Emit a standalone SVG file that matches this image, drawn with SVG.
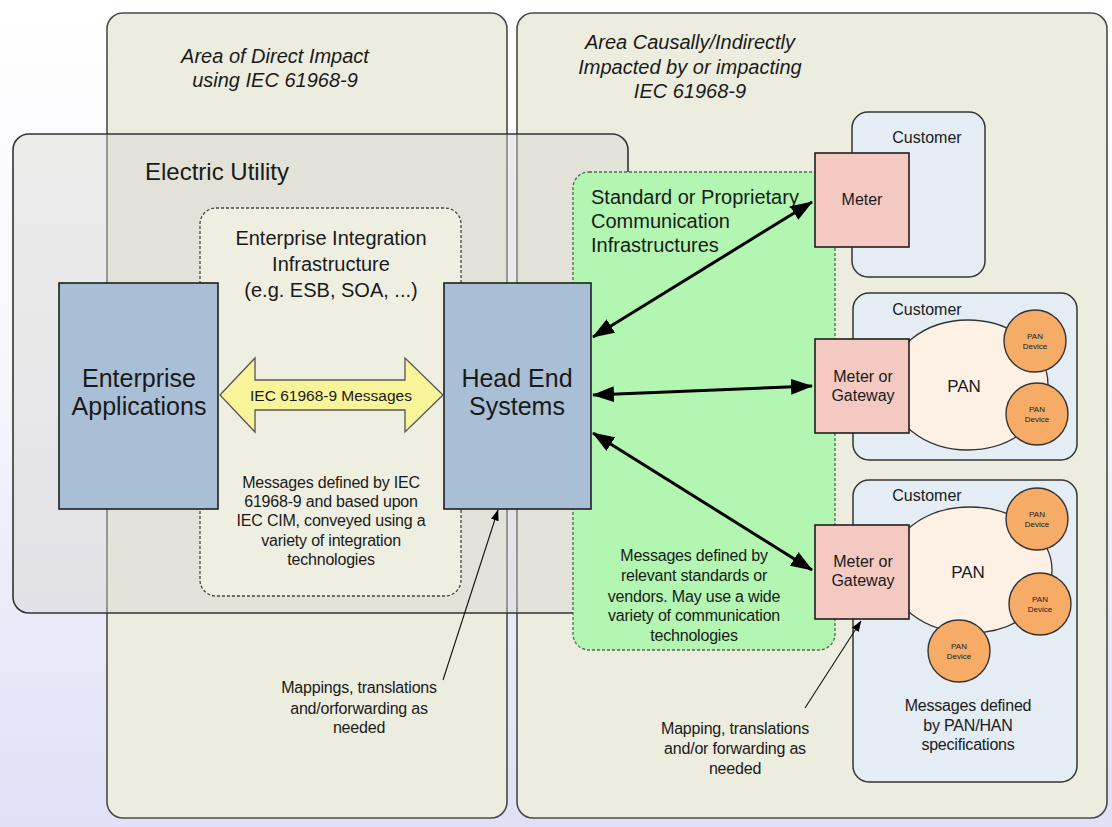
<svg xmlns="http://www.w3.org/2000/svg" width="1112" height="827" viewBox="0 0 1112 827">
  <defs>
    <linearGradient id="bg" x1="0" y1="0" x2="0" y2="1">
      <stop offset="0" stop-color="#ffffff"/>
      <stop offset="0.45" stop-color="#f6f6fc"/>
      <stop offset="1" stop-color="#e0e0f7"/>
    </linearGradient>
    <marker id="headBig" viewBox="0 0 22 16" refX="21" refY="8" markerWidth="22" markerHeight="16" markerUnits="userSpaceOnUse" orient="auto-start-reverse">
      <path d="M0,0 L22,8 L0,16 Z" fill="#000"/>
    </marker>
    <marker id="headThin" viewBox="0 0 11 8" refX="10.5" refY="4" markerWidth="11" markerHeight="8" markerUnits="userSpaceOnUse" orient="auto">
      <path d="M0,0 L11,4 L0,8 Z" fill="#000"/>
    </marker>
    <style>
      text { font-family: "Liberation Sans", Arial, sans-serif; fill: #1a1a1a; }
      .area { fill: #ededdf; stroke: #4a4a4a; stroke-width: 1.6; }
      .util { fill: #d4d4d0; fill-opacity: 0.42; stroke: #333; stroke-width: 1.6; }
      .eii { fill: #efefe1; stroke: #444; stroke-width: 1.3; stroke-dasharray: 3 2; }
      .comm { fill: #b2f6b2; stroke: #4f6a4f; stroke-width: 1.3; stroke-dasharray: 3 2; }
      .cust { fill: #e4ecf4; stroke: #333; stroke-width: 1.5; }
      .meter { fill: #f3c9c2; stroke: #1e1e1e; stroke-width: 1.6; }
      .sys { fill: #a9bfd6; stroke: #1e1e1e; stroke-width: 1.6; }
      .pan { fill: #fdf1e5; stroke: #333; stroke-width: 1.3; }
      .dev { fill: #f6ab67; stroke: #333; stroke-width: 1.4; }
      .devtxt { font-size: 8px; text-anchor: middle; }
      .big { stroke: #000; stroke-width: 3; fill: none; marker-start: url(#headBig); marker-end: url(#headBig); }
      .thin { stroke: #111; stroke-width: 1.1; fill: none; marker-end: url(#headThin); }
      .title { font-size: 20px; font-style: italic; text-anchor: middle; }
      .c { text-anchor: middle; }
      .note { font-size: 16px; text-anchor: middle; letter-spacing: -0.2px; }
    </style>
  </defs>

  <rect width="1112" height="827" fill="url(#bg)"/>

  <!-- impact areas -->
  <g id="area-direct">
    <rect class="area" x="107" y="13" width="400" height="805" rx="16"/>
    <text class="title" x="275" y="63">Area of Direct Impact</text>
    <text class="title" x="275" y="87">using IEC 61968-9</text>
  </g>
  <g id="area-indirect">
    <rect class="area" x="517" y="13" width="590" height="805" rx="16"/>
    <text class="title" x="690" y="49">Area Causally/Indirectly</text>
    <text class="title" x="690" y="74">Impacted by or impacting</text>
    <text class="title" x="690" y="98">IEC 61968-9</text>
  </g>

  <!-- utility boundary -->
  <g id="electric-utility">
    <rect class="util" x="13" y="134" width="615" height="479" rx="16"/>
    <text x="145" y="180" font-size="24">Electric Utility</text>
  </g>

  <g id="enterprise-integration">
    <rect class="eii" x="200" y="208" width="261" height="388" rx="16"/>
    <text class="c" x="331" y="245" font-size="20">Enterprise Integration</text>
    <text class="c" x="331" y="271" font-size="20">Infrastructure</text>
    <text class="c" x="331" y="297" font-size="20">(e.g. ESB, SOA, ...)</text>
    <text class="note" x="331" y="488">Messages defined by IEC</text>
    <text class="note" x="331" y="507">61968-9 and based upon</text>
    <text class="note" x="331" y="526">IEC CIM, conveyed using a</text>
    <text class="note" x="331" y="546">variety of integration</text>
    <text class="note" x="331" y="565">technologies</text>
  </g>

  <g id="comm-infrastructure">
    <rect class="comm" x="573" y="172" width="262" height="478" rx="16"/>
    <text x="591" y="204" font-size="20">Standard or Proprietary</text>
    <text x="591" y="228" font-size="20">Communication</text>
    <text x="591" y="252" font-size="20">Infrastructures</text>
    <text class="note" x="694" y="561">Messages defined by</text>
    <text class="note" x="694" y="581">relevant standards or</text>
    <text class="note" x="694" y="602">vendors. May use a wide</text>
    <text class="note" x="694" y="621">variety of communication</text>
    <text class="note" x="694" y="641">technologies</text>
  </g>

  <!-- customer premises -->
  <g id="customer-1">
    <rect class="cust" x="852" y="112" width="133" height="165" rx="16"/>
    <text class="c" x="927" y="143" font-size="16">Customer</text>
  </g>
  <g id="meter-1">
    <rect class="meter" x="815" y="153" width="94" height="94"/>
    <text class="c" x="862" y="205" font-size="16">Meter</text>
  </g>

  <g id="customer-2">
    <rect class="cust" x="853" y="293" width="224" height="167" rx="16"/>
    <text class="c" x="927" y="315" font-size="16">Customer</text>
    <ellipse class="pan" cx="968" cy="385" rx="80" ry="65"/>
    <text class="c" x="964" y="392" font-size="17">PAN</text>
    <circle class="dev" cx="1035" cy="341" r="31"/>
    <text class="devtxt" x="1035" y="339">PAN</text>
    <text class="devtxt" x="1035" y="349">Device</text>
    <circle class="dev" cx="1037" cy="414" r="31"/>
    <text class="devtxt" x="1037" y="412">PAN</text>
    <text class="devtxt" x="1037" y="422">Device</text>
  </g>
  <g id="gateway-2">
    <rect class="meter" x="815" y="339" width="94" height="94"/>
    <text class="c" x="863" y="382" font-size="16">Meter or</text>
    <text class="c" x="863" y="401" font-size="16">Gateway</text>
  </g>

  <g id="customer-3">
    <rect class="cust" x="853" y="480" width="224" height="302" rx="16"/>
    <text class="c" x="927" y="501" font-size="16">Customer</text>
    <ellipse class="pan" cx="970" cy="570" rx="82" ry="63"/>
    <text class="c" x="968" y="578" font-size="17">PAN</text>
    <circle class="dev" cx="1037" cy="519" r="31"/>
    <text class="devtxt" x="1037" y="517">PAN</text>
    <text class="devtxt" x="1037" y="527">Device</text>
    <circle class="dev" cx="1040" cy="604" r="31"/>
    <text class="devtxt" x="1040" y="602">PAN</text>
    <text class="devtxt" x="1040" y="612">Device</text>
    <circle class="dev" cx="959" cy="651" r="31"/>
    <text class="devtxt" x="959" y="649">PAN</text>
    <text class="devtxt" x="959" y="659">Device</text>
    <text class="note" x="968" y="711">Messages defined</text>
    <text class="note" x="968" y="731">by PAN/HAN</text>
    <text class="note" x="968" y="750">specifications</text>
  </g>
  <g id="gateway-3">
    <rect class="meter" x="815" y="525" width="94" height="94"/>
    <text class="c" x="863" y="567" font-size="16">Meter or</text>
    <text class="c" x="863" y="586" font-size="16">Gateway</text>
  </g>

  <!-- systems -->
  <g id="enterprise-applications">
    <rect class="sys" x="59" y="283" width="159" height="226"/>
    <text class="c" x="139" y="387" font-size="25">Enterprise</text>
    <text class="c" x="139" y="415" font-size="25">Applications</text>
  </g>
  <g id="head-end-systems">
    <rect class="sys" x="444" y="283" width="147" height="226"/>
    <text class="c" x="517" y="387" font-size="25">Head End</text>
    <text class="c" x="517" y="415" font-size="25">Systems</text>
  </g>

  <!-- connectors -->
  <g id="connectors">
    <g id="iec-messages">
      <polygon points="220,395 255,358 255,380 405,380 405,358 443,395 405,432 405,410 255,410 255,432" fill="#f8f49a" stroke="#555" stroke-width="1.3"/>
      <text class="c" x="331" y="401" font-size="15.5">IEC 61968-9 Messages</text>
    </g>
    <line class="big" x1="593" y1="337" x2="812" y2="202"/>
    <line class="big" x1="593" y1="395" x2="812" y2="386"/>
    <line class="big" x1="593" y1="433" x2="812" y2="570"/>
    <line class="thin" x1="443" y1="680" x2="498" y2="510"/>
    <line class="thin" x1="805" y1="708" x2="861" y2="621"/>
  </g>

  <g id="mapping-notes">
    <text class="note" x="359" y="693">Mappings, translations</text>
    <text class="note" x="359" y="714">and/orforwarding as</text>
    <text class="note" x="359" y="733">needed</text>
    <text class="note" x="735" y="734">Mapping, translations</text>
    <text class="note" x="735" y="754">and/or forwarding as</text>
    <text class="note" x="735" y="774">needed</text>
  </g>
</svg>
